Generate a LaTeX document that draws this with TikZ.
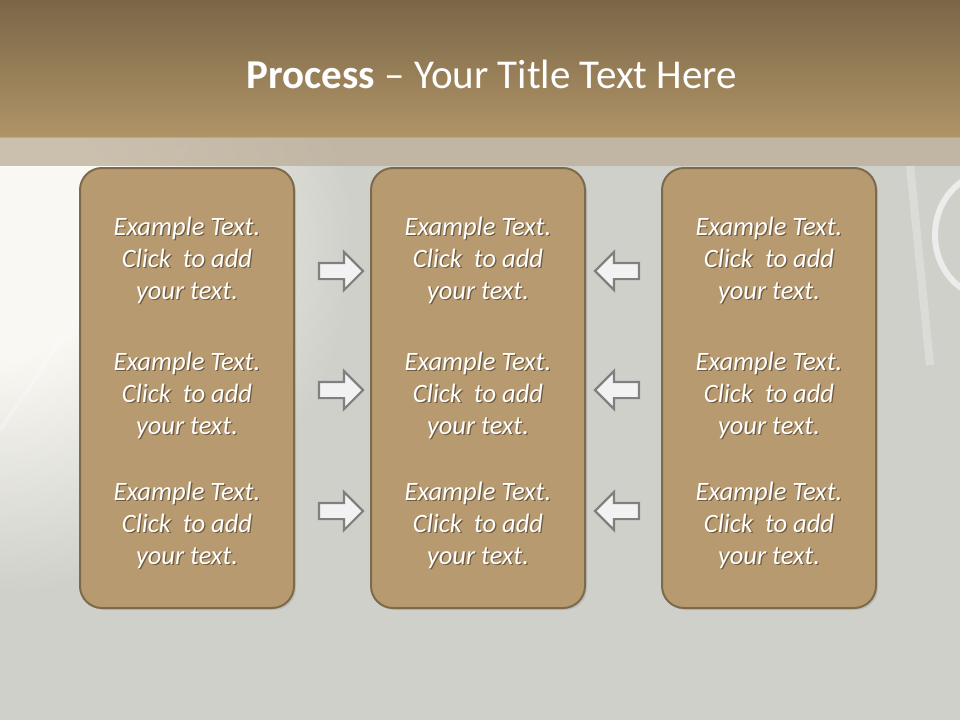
\documentclass[tikz,border=0pt]{standalone}
\usepackage{fontspec}
\setmainfont{Carlito}
\definecolor{BandTop}{HTML}{7a6647}
\definecolor{BandBottom}{HTML}{b09467}
\definecolor{StripTan}{HTML}{bcae98}
\definecolor{SlideGray}{HTML}{d0d0cb}
\definecolor{GlowWhite}{HTML}{f9f8f3}
\definecolor{PanelTan}{HTML}{b89a70}
\definecolor{PanelEdge}{HTML}{7d6a4c}
\definecolor{TextShadow}{HTML}{6f5b3f}
\definecolor{ArrowFill}{HTML}{f2f2f2}
\definecolor{ArrowEdge}{HTML}{808080}
\usetikzlibrary{positioning, shapes.arrows, shadows}
\pgfdeclareradialshading{glow}{\pgfpoint{0bp}{0bp}}{color(0bp)=(GlowWhite);
  color(7bp)=(GlowWhite); color(21bp)=(SlideGray); color(50bp)=(SlideGray)}
\newcommand\shadowline[1]{\rlap{\kern1.3pt\raisebox{-1.8pt}{\textcolor{TextShadow}{#1}}}#1}

\begin{document}
\begin{tikzpicture}[
  x=1pt, y=-1pt,
  node distance=75pt,
  panel/.style={draw=PanelEdge, line width=2pt, fill=PanelTan,
                rounded corners=22pt, minimum width=214pt, minimum height=440pt,
                drop shadow={shadow xshift=2pt, shadow yshift=-2pt, opacity=.25}},
  txt/.style={text=white, align=center, inner sep=0pt,
              font=\fontsize{26.5}{32}\selectfont\itshape},
  flow/.style={single arrow, draw=ArrowEdge, line width=2.2pt, fill=ArrowFill,
               minimum height=44pt, minimum width=37pt, inner sep=7pt,
               single arrow head extend=11pt},
  backflow/.style={flow, shape border rotate=180},
  ring/.style={draw=white, opacity=.25, line width=4pt}
]
  % Background
  \useasboundingbox (0,0) rectangle (960,720);
  \fill[SlideGray] (0,0) rectangle (960,720);
  \begin{scope}
    \clip (0,137) rectangle (960,720);
    \shade[shading=glow] (0,240) circle (420pt);
    \draw[ring] (190,140) .. controls (130,230) and (70,330) .. (0,430);
    \draw[ring, opacity=.15] (130,140) .. controls (90,220) and (40,300) .. (0,360);
    \draw[ring, opacity=.6, line width=6pt] (990,235) ellipse (55pt and 62pt);
    \draw[ring, line width=8pt] (910,165) -- (930,365);
  \end{scope}

  % Title band
  \shade[top color=BandTop, bottom color=BandBottom] (0,0) rectangle (960,137);
  \fill[StripTan, opacity=.75] (0,137) rectangle (960,166);
  \node[text=white, anchor=base, font=\fontsize{41}{48}\selectfont] (title) at (492,88)
    {\textbf{Process} -- Your Title Text Here};

  % Panels
  \node[panel] (left) at (187,388) {};
  \node[panel, right=of left] (mid) {};
  \node[panel, right=of mid] (right) {};

  % Panel texts
  \foreach \b in {left,mid,right}
    \foreach \r/\y in {1/261,2/396,3/526}
      \node[txt] (\b\r) at (\b |- 0,\y)
        {\shadowline{Example Text.}\\\shadowline{Click~ to add}\\\shadowline{your text.}};

  % Arrows
  \foreach \r/\y in {1/271,2/390,3/511} {
    \node[flow] (in\r) at (337,\y) {};
    \node[backflow] (out\r) at (621,\y) {};
  }
\end{tikzpicture}
\end{document}
